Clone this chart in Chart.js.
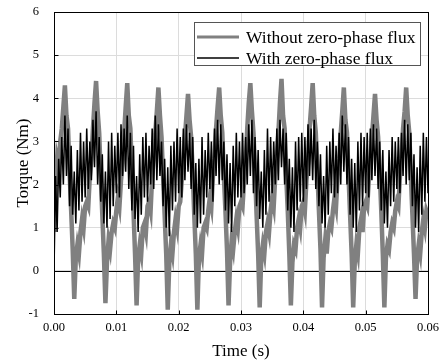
<!DOCTYPE html>
<html>
<head>
<meta charset="utf-8">
<script src="https://cdn.jsdelivr.net/npm/chart.js@4.4.1/dist/chart.umd.min.js"></script>
<style>
  body { margin: 0; background: #fff; }
  canvas { display: block; }
</style>
</head>
<body>
<canvas id="myChart" width="441" height="360"></canvas>
<script>
'use strict';
// sample step of both traces (s)
const dt = 0.00025;
const xTicks = [0, 0.01, 0.02, 0.03, 0.04, 0.05, 0.06];
const yTicks = [-1, 0, 1, 2, 3, 4, 5, 6];
const names = ['Without zero-phase flux', 'With zero-phase flux'];

// torque, one value per dt
const withoutZero = [
  0.9, 1.9, 2.6, 2.4, 3.0, 3.3, 3.8, 4.3, 3.6, 3.3, 2.3, 1.4, 0.5, -0.65, 0.3, 0.6, 0.4, 0.9, 1.2, 1.0,
  1.5, 1.6, 1.5, 2.2, 2.6, 3.3, 3.9, 4.4, 3.7, 3.2, 2.2, 1.3, 0.4, -0.75, 0.2, 0.7, 0.5, 0.9, 1.1, 1.0,
  1.4, 1.7, 1.5, 2.1, 2.5, 3.2, 3.8, 4.35, 3.6, 3.3, 2.3, 1.4, 0.4, -0.8, 0.3, 0.6, 0.4, 1.0, 1.1, 0.9,
  1.5, 1.6, 1.4, 2.2, 2.6, 3.2, 3.7, 4.25, 3.6, 3.1, 2.2, 1.3, 0.4, -0.9, 0.2, 0.6, 0.4, 0.9, 1.2, 1.0,
  1.5, 1.6, 2.1, 2.5, 3.1, 3.6, 4.1, 3.5, 3.1, 2.3, 1.3, 0.4, -0.9, 0.3, 0.6, 0.4, 1.0, 1.1, 1.0, 1.4,
  1.7, 1.5, 2.2, 2.6, 3.3, 3.8, 4.25, 3.6, 3.2, 2.2, 1.4, 0.5, -0.8, 0.2, 0.7, 0.5, 0.9, 1.2, 1.0, 1.5,
  1.6, 1.5, 2.1, 2.5, 3.3, 3.9, 4.35, 3.7, 3.2, 2.3, 1.3, 0.4, -0.85, 0.3, 0.6, 0.4, 0.9, 1.1, 0.9, 1.4,
  1.7, 1.5, 2.2, 2.6, 3.2, 3.9, 4.45, 3.6, 3.3, 2.2, 1.4, 0.4, -0.8, 0.2, 0.6, 0.5, 1.0, 1.2, 1.0, 1.5,
  1.6, 1.4, 2.1, 2.5, 3.3, 3.8, 4.35, 3.6, 3.2, 2.3, 1.4, 0.5, -0.85, 0.3, 0.7, 0.4, 0.9, 1.1, 1.0, 1.4,
  1.7, 1.5, 2.2, 2.6, 3.2, 3.7, 4.25, 3.5, 3.2, 2.2, 1.3, 0.4, -0.85, 0.2, 0.6, 0.4, 1.0, 1.2, 0.9, 1.5,
  1.6, 1.5, 2.1, 2.5, 3.1, 3.6, 4.1, 3.5, 3.1, 2.3, 1.4, 0.4, -0.85, 0.3, 0.6, 0.5, 0.9, 1.1, 1.0, 1.4,
  1.6, 1.5, 2.2, 2.6, 3.3, 3.7, 4.25, 3.6, 3.2, 2.2, 1.3, 0.4, -0.65, 0.3, 0.6, 0.4, 0.9, 1.2, 1.0, 1.4,
  1.3
];
const withZero = [
  0.0, 2.2, 0.9, 2.6, 1.7, 3.1, 2.0, 3.6, 2.2, 3.3, 1.5, 2.9, 1.3, 2.3, 1.1, 2.8, 1.4, 3.2, 1.6, 3.0,
  1.7, 3.3, 1.9, 3.0, 2.1, 3.5, 2.4, 3.7, 2.0, 3.1, 1.6, 2.7, 1.1, 2.3, 1.0, 3.0, 1.2, 3.2, 1.5, 2.9,
  1.8, 3.2, 1.7, 3.4, 2.2, 3.3, 2.3, 3.6, 1.9, 3.2, 1.4, 2.9, 1.2, 2.2, 0.9, 2.7, 1.3, 3.1, 1.7, 3.2,
  1.6, 2.9, 2.0, 3.3, 1.9, 3.6, 2.1, 3.4, 2.2, 3.0, 1.5, 2.6, 1.0, 2.4, 0.8, 2.9, 1.4, 3.0, 1.6, 3.3,
  1.8, 3.1, 1.7, 3.3, 2.1, 3.4, 2.3, 3.2, 1.9, 3.1, 1.3, 2.5, 1.0, 2.6, 1.1, 3.1, 1.3, 2.8, 1.7, 3.2,
  1.9, 3.0, 1.6, 3.3, 2.2, 3.5, 2.0, 3.4, 2.1, 3.0, 1.4, 2.7, 1.1, 2.5, 0.9, 2.9, 1.5, 3.2, 1.7, 3.0,
  1.7, 3.2, 1.8, 3.1, 2.0, 3.4, 2.2, 3.5, 1.8, 3.1, 1.5, 2.8, 1.2, 2.3, 1.0, 2.8, 1.3, 3.3, 1.6, 3.1,
  1.8, 3.0, 2.0, 3.3, 2.1, 3.5, 2.4, 3.3, 2.0, 3.2, 1.4, 2.6, 1.0, 2.4, 0.9, 3.0, 1.4, 3.1, 1.6, 3.2,
  1.6, 3.1, 1.9, 3.4, 2.2, 3.3, 2.1, 3.5, 1.9, 3.0, 1.5, 2.7, 1.1, 2.2, 1.0, 2.9, 1.3, 3.0, 1.8, 3.3,
  1.7, 2.9, 1.8, 3.2, 2.0, 3.6, 2.3, 3.4, 2.0, 3.1, 1.3, 2.6, 1.0, 2.5, 0.9, 3.0, 1.4, 3.2, 1.5, 3.1,
  1.8, 3.2, 1.7, 3.3, 2.1, 3.4, 2.2, 3.3, 1.9, 3.0, 1.4, 2.8, 1.1, 2.3, 1.0, 2.8, 1.5, 3.1, 1.6, 3.0,
  1.9, 3.1, 1.8, 3.2, 2.2, 3.5, 2.0, 3.4, 2.1, 3.2, 1.5, 2.7, 1.0, 2.4, 0.9, 2.9, 1.3, 3.2, 1.6, 3.1,
  1.8
];

function toPoints(arr) {
  return arr.map((v, i) => ({x: i * dt, y: v}));
}

const serif = 'Liberation Serif';

// zero line under the traces
const zeroLine = {
  id: 'zeroLine',
  beforeDatasetsDraw(chart) {
    const {ctx, chartArea, scales} = chart;
    const y = Math.round(scales.y.getPixelForValue(0)) + 0.5;
    ctx.save();
    ctx.strokeStyle = '#000';
    ctx.lineWidth = 1;
    ctx.beginPath();
    ctx.moveTo(chartArea.left, y);
    ctx.lineTo(chartArea.right, y);
    ctx.stroke();
    ctx.restore();
  }
};

// box round the plot and short inward ticks
const frame = {
  id: 'frame',
  afterDatasetsDraw(chart) {
    const {ctx, chartArea, scales} = chart;
    const l = Math.round(chartArea.left) + 0.5, r = Math.round(chartArea.right) + 0.5;
    const t = Math.round(chartArea.top) + 0.5, b = Math.round(chartArea.bottom) + 0.5;
    ctx.save();
    ctx.strokeStyle = '#000';
    ctx.lineWidth = 1;
    ctx.strokeRect(l, t, r - l, b - t);
    ctx.beginPath();
    xTicks.forEach(v => {
      const x = Math.round(scales.x.getPixelForValue(v)) + 0.5;
      ctx.moveTo(x, b);
      ctx.lineTo(x, b - 4);
    });
    yTicks.forEach(v => {
      const y = Math.round(scales.y.getPixelForValue(v)) + 0.5;
      ctx.moveTo(l, y);
      ctx.lineTo(l + 4, y);
    });
    ctx.stroke();
    ctx.restore();
  }
};

const legendBox = {
  id: 'legendBox',
  afterDraw(chart) {
    const ctx = chart.ctx;
    ctx.save();
    ctx.fillStyle = '#fff';
    ctx.fillRect(194.5, 22.5, 226, 43);
    ctx.strokeStyle = '#555';
    ctx.lineWidth = 1;
    ctx.strokeRect(194.5, 22.5, 226, 43);
    ctx.font = '17.5px "' + serif + '"';
    ctx.textBaseline = 'middle';
    ctx.fillStyle = '#000';
    chart.data.datasets.forEach((ds, i) => {
      const y = 37 + i * 21;
      ctx.strokeStyle = ds.borderColor;
      ctx.lineWidth = i === 0 ? 3 : 1.5;
      ctx.beginPath();
      ctx.moveTo(197, y);
      ctx.lineTo(239, y);
      ctx.stroke();
      ctx.fillText(ds.label, 246, y + 1);
    });
    ctx.restore();
  }
};

const ctx = document.getElementById('myChart').getContext('2d');
new Chart(ctx, {
  type: 'line',
  data: {
    datasets: [
      {
        label: names[0],
        data: toPoints(withoutZero),
        borderColor: 'rgb(128,128,128)',
        borderWidth: 4.5,
        pointRadius: 0,
        tension: 0,
        order: 2
      },
      {
        label: names[1],
        data: toPoints(withZero),
        borderColor: '#000',
        borderWidth: 1.5,
        pointRadius: 0,
        tension: 0,
        order: 1
      }
    ]
  },
  options: {
    responsive: false,
    animation: false,
    layout: {padding: {top: 12, right: 13, left: 0, bottom: 0}},
    plugins: {
      legend: {display: false},
      tooltip: {enabled: false}
    },
    scales: {
      x: {
        type: 'linear',
        min: 0,
        max: 0.06,
        afterBuildTicks: s => { s.ticks = xTicks.map(v => ({value: v})); },
        afterFit: s => { s.height = 46; s.paddingLeft = 0; s.paddingRight = 0; },
        grid: {color: '#dcdcdc', drawTicks: false},
        border: {display: false},
        ticks: {
          padding: 6,
          color: '#000',
          font: {family: serif, size: 12.5},
          callback: v => v.toFixed(2),
          maxRotation: 0
        },
        title: {
          display: true,
          text: 'Time (s)',
          color: '#000',
          font: {family: serif, size: 17, lineHeight: 1},
          padding: {top: 0, bottom: 0}
        }
      },
      y: {
        min: -1,
        max: 6,
        afterBuildTicks: s => { s.ticks = yTicks.map(v => ({value: v})); },
        afterFit: s => { s.width = 54; s.paddingTop = 0; s.paddingBottom = 0; },
        grid: {color: '#dcdcdc', drawTicks: false},
        border: {display: false},
        ticks: {
          padding: 15,
          color: '#000',
          font: {family: serif, size: 12.5}
        },
        title: {
          display: true,
          text: 'Torque (Nm)',
          color: '#000',
          font: {family: serif, size: 17, lineHeight: 1},
          padding: {top: 15, bottom: 0}
        }
      }
    }
  },
  plugins: [zeroLine, frame, legendBox]
});
</script>
</body>
</html>
